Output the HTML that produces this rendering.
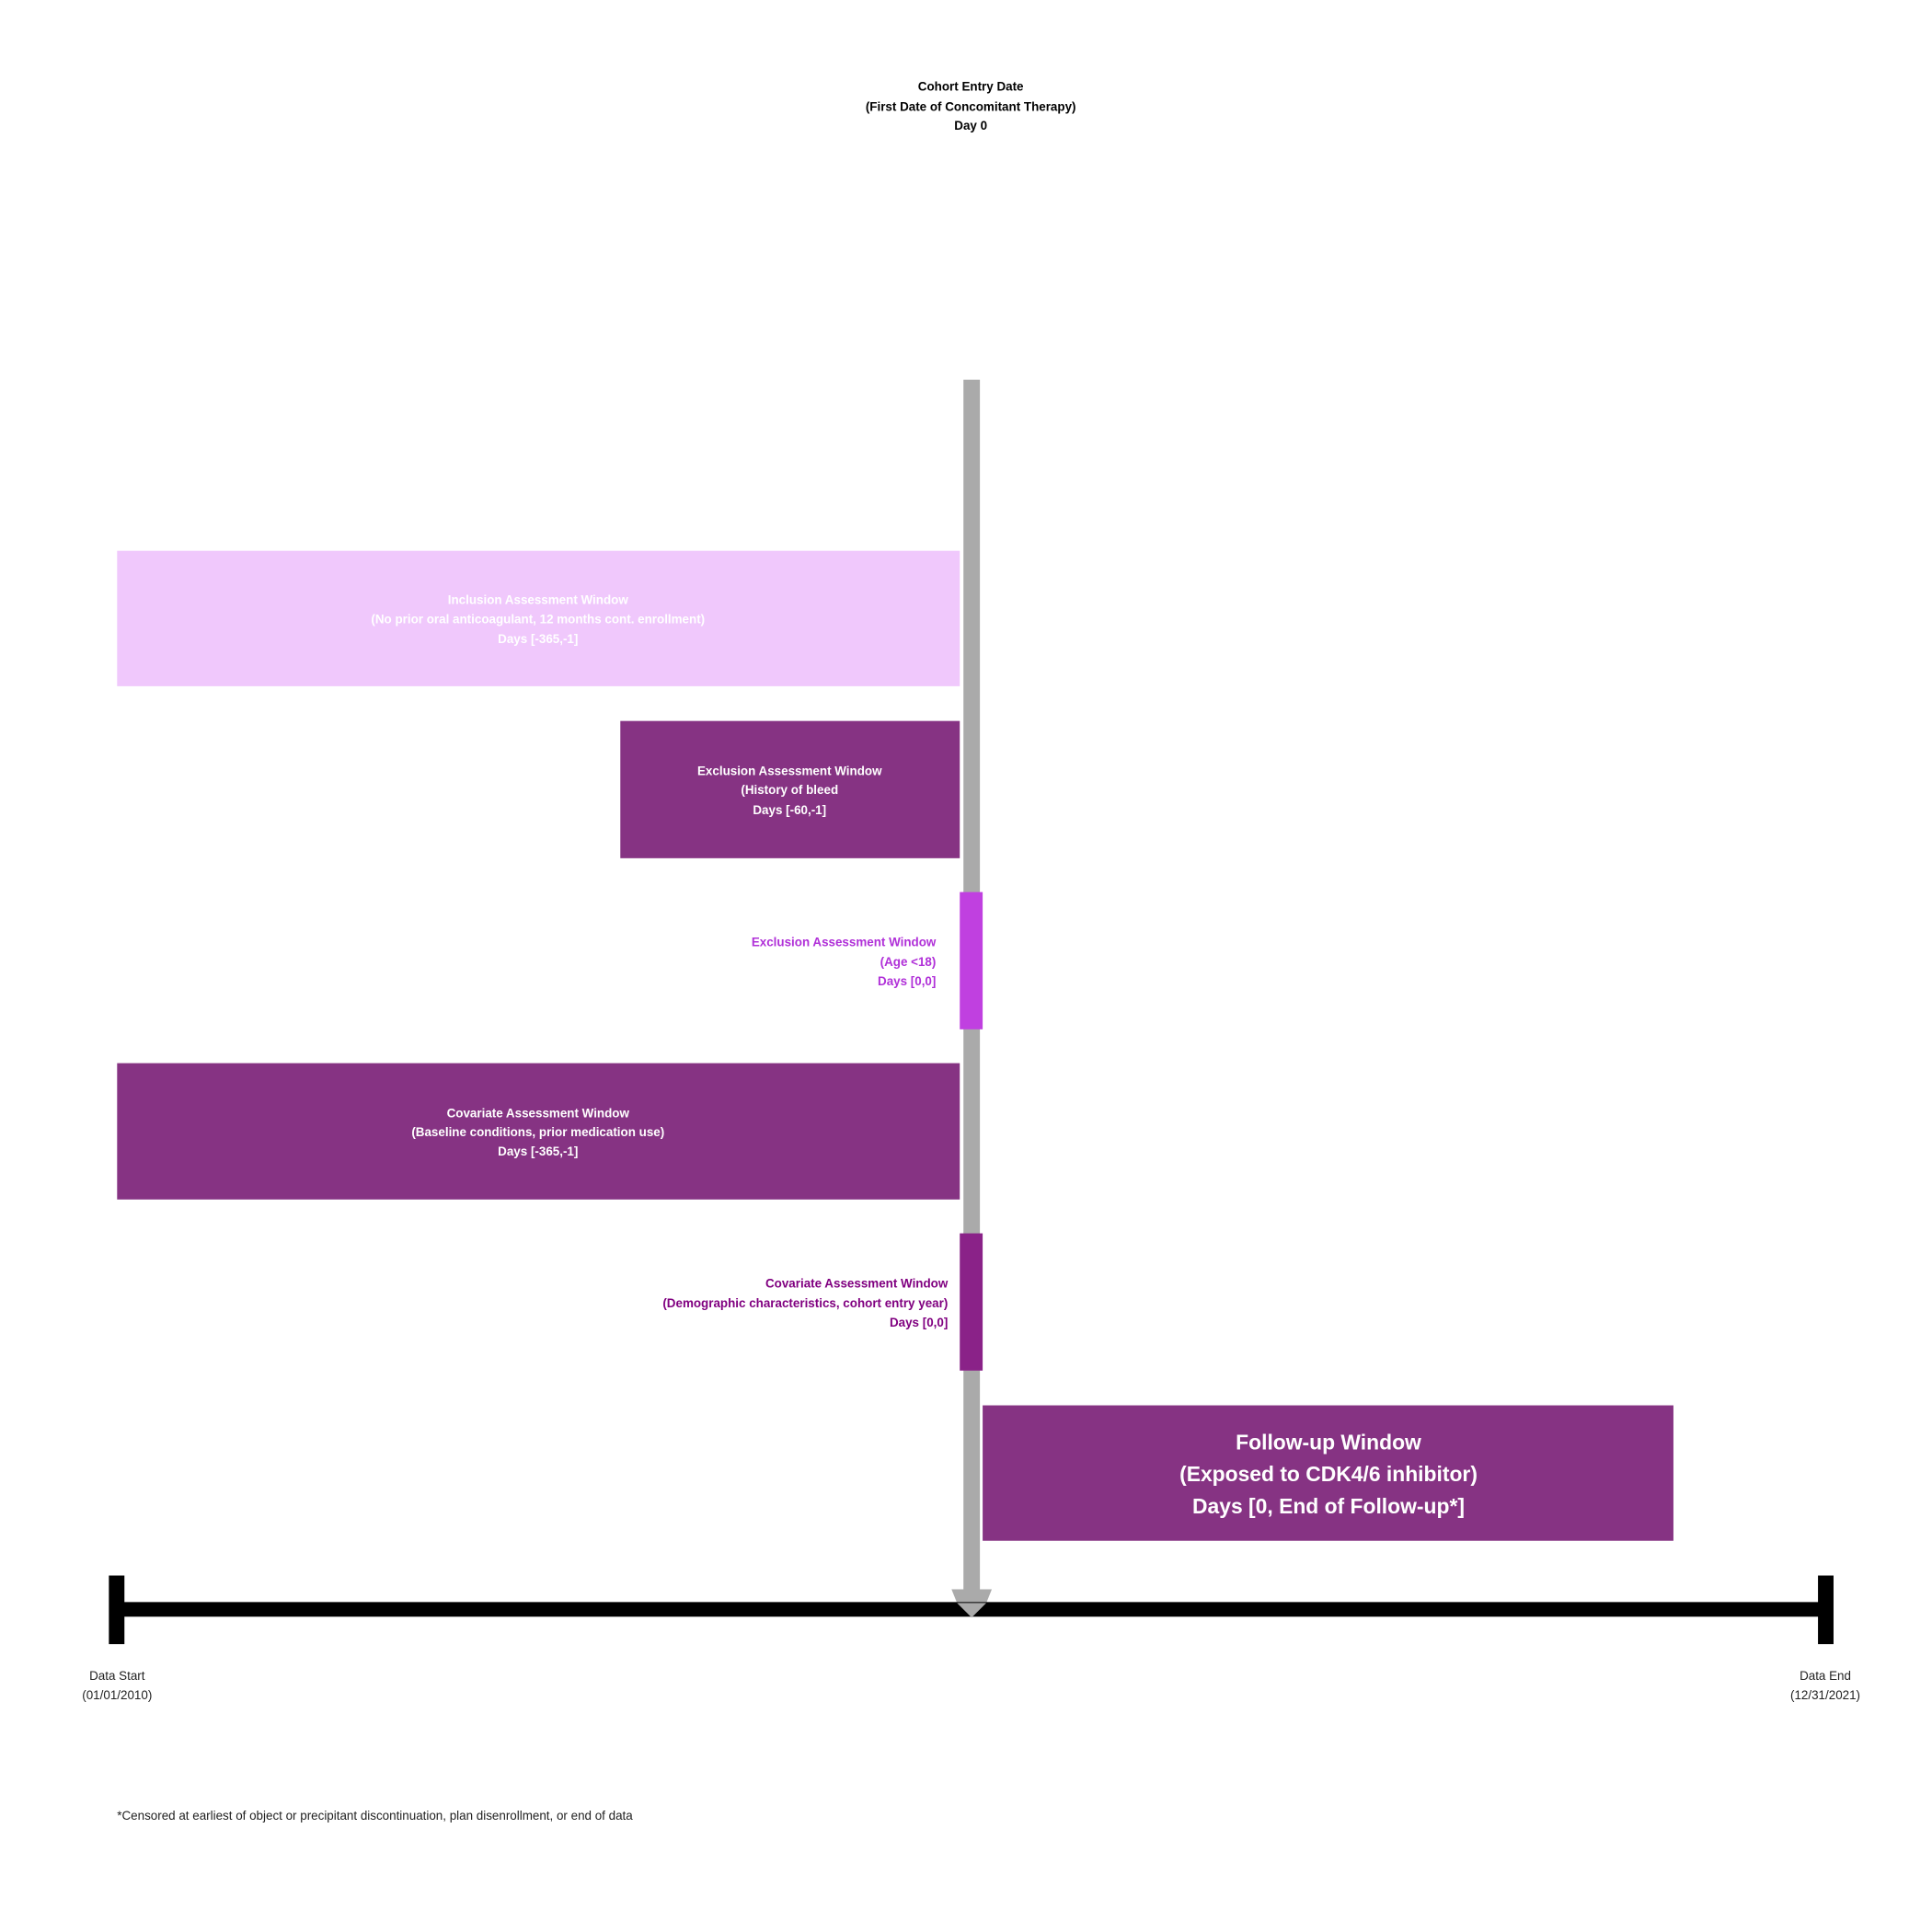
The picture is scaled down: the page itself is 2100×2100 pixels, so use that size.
<!DOCTYPE html>
<html><head><meta charset="utf-8"><style>
html,body{margin:0;padding:0;background:#fff}
svg{display:block}
text{font-family:"Liberation Sans",Arial,sans-serif}
.b{font-weight:bold;font-size:13.5px}
</style></head><body>
<svg width="2100" height="2100" viewBox="0 0 2100 2100" xmlns="http://www.w3.org/2000/svg">
<g transform="scale(0.9945)">
<g text-anchor="middle" class="b" fill="#000">
<text x="1061" y="99" class="b">Cohort Entry Date</text>
<text x="1061" y="121" class="b">(First Date of Concomitant Therapy)</text>
<text x="1061" y="142" class="b">Day 0</text>
</g>
<g>
<rect x="1053" y="415" width="18" height="1325" fill="#aaaaaa"/>
<polygon points="1040,1737 1084,1737 1078,1752 1062,1768 1046,1752" fill="#aaaaaa"/>
</g>
<g>
<rect x="128" y="602" width="921" height="148" fill="#f0c8fc"/>
<g text-anchor="middle" fill="#ffffff"><text x="588" y="660" class="b">Inclusion Assessment Window</text><text x="588" y="681" class="b">(No prior oral anticoagulant, 12 months cont. enrollment)</text><text x="588" y="703" class="b">Days [-365,-1]</text></g>
</g>
<g>
<rect x="678" y="788" width="371" height="150" fill="#863383"/>
<g text-anchor="middle" fill="#ffffff"><text x="863" y="847" class="b">Exclusion Assessment Window</text><text x="863" y="868" class="b">(History of bleed</text><text x="863" y="890" class="b">Days [-60,-1]</text></g>
</g>
<g>
<rect x="1049" y="975" width="25" height="150" fill="#c040e0"/>
<g text-anchor="end" fill="#b030d8"><text x="1023" y="1034" class="b">Exclusion Assessment Window</text><text x="1023" y="1056" class="b">(Age &lt;18)</text><text x="1023" y="1077" class="b">Days [0,0]</text></g>
</g>
<g>
<rect x="128" y="1162" width="921" height="149" fill="#863383"/>
<g text-anchor="middle" fill="#ffffff"><text x="588" y="1221" class="b">Covariate Assessment Window</text><text x="588" y="1242" class="b">(Baseline conditions, prior medication use)</text><text x="588" y="1263" class="b">Days [-365,-1]</text></g>
</g>
<g>
<rect x="1049" y="1348" width="25" height="150" fill="#8a2288"/>
<g text-anchor="end" fill="#800080"><text x="1036" y="1407" class="b">Covariate Assessment Window</text><text x="1036" y="1429" class="b">(Demographic characteristics, cohort entry year)</text><text x="1036" y="1450" class="b">Days [0,0]</text></g>
</g>
<g>
<rect x="1074" y="1536" width="755" height="148" fill="#863383"/>
<g text-anchor="middle" fill="#ffffff" font-weight="bold" font-size="23"><text x="1452" y="1584">Follow-up Window</text><text x="1452" y="1619">(Exposed to CDK4/6 inhibitor)</text><text x="1452" y="1654">Days [0, End of Follow-up*]</text></g>
</g>
<g>
<rect x="128" y="1751" width="1867" height="16" fill="#000"/>
<rect x="119" y="1722" width="17" height="75" fill="#000"/>
<rect x="1987" y="1722" width="17" height="75" fill="#000"/>
<polygon points="1046,1752 1078,1752 1062,1768" fill="#aaaaaa"/>
</g>
<g text-anchor="middle" font-size="13.5" fill="#222"><text x="128" y="1836">Data Start</text><text x="128" y="1857">(01/01/2010)</text></g>
<g text-anchor="middle" font-size="13.5" fill="#222"><text x="1995" y="1836">Data End</text><text x="1995" y="1857">(12/31/2021)</text></g>
<text x="128" y="1989" font-size="13.5" fill="#222">*Censored at earliest of object or precipitant discontinuation, plan disenrollment, or end of data</text>
</g>
</svg>
</body></html>
